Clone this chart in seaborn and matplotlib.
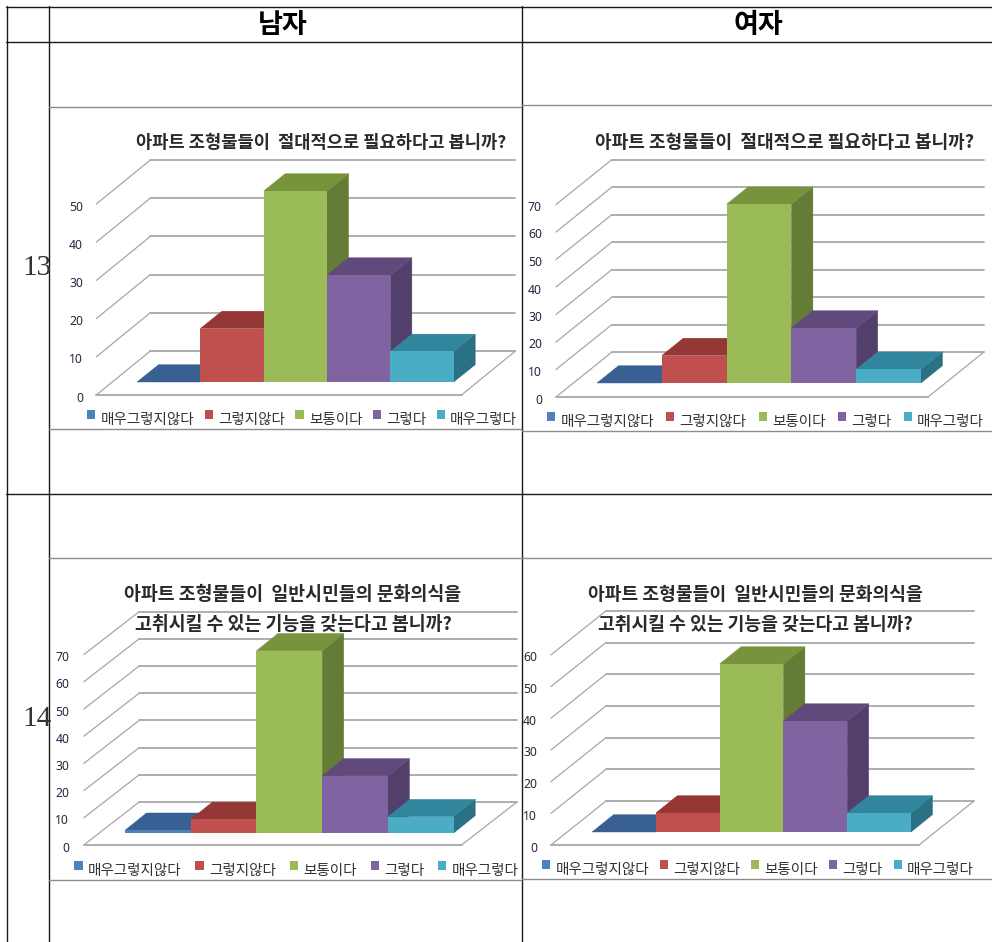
import matplotlib
matplotlib.use('Agg')
import matplotlib.pyplot as plt
from matplotlib.patches import Patch, Polygon
from matplotlib.transforms import ScaledTranslation
import seaborn as sns

# Survey data (percent of answers)
categories = ['매우그렇지않다', '그렇지않다', '보통이다', '그렇다', '매우그렇다']
q13_male = [0, 14, 50, 28, 8]
q13_female = [0, 10, 65, 20, 5]
q14_male = [1, 5, 67, 21, 6]
q14_female = [0, 6, 53, 35, 6]
q13_male_ticks = [0, 10, 20, 30, 40, 50]
q13_female_ticks = [0, 10, 20, 30, 40, 50, 60, 70]
q14_male_ticks = [0, 10, 20, 30, 40, 50, 60, 70]
q14_female_ticks = [0, 10, 20, 30, 40, 50, 60]

title_13 = ['아파트 조형물들이  절대적으로 필요하다고 봅니까?']
title_14 = ['아파트 조형물들이  일반시민들의 문화의식을', '고취시킬 수 있는 기능을 갖는다고 봅니까?']

front_colors = ['#4F81BD', '#C0504D', '#9BBB59', '#8064A2', '#4BACC6']
top_colors = ['#386093', '#953735', '#77933C', '#604A7B', '#31859C']
side_colors = ['#2F5480', '#7F2F2D', '#647C35', '#533F6B', '#2B7186']

W, H = 992, 942
DPI = 100
FONT = ['Noto Sans CJK KR', 'DejaVu Sans']

sns.set_theme(style='white')
plt.rcParams['font.family'] = FONT

fig = plt.figure(figsize=(W / DPI, H / DPI), dpi=DPI)

# Background axes in pixel coordinates for the table around the charts
bg = fig.add_axes([0, 0, 1, 1])
bg.set_xlim(0, W)
bg.set_ylim(H, 0)
bg.axis('off')

for x in [6.5, 48.5, 521.5]:
    bg.plot([x, x], [6, H], color='#1a1a1a', lw=1.0)
for y in [6.5, 41.5, 493.5]:
    bg.plot([6, W], [y, y], color='#1a1a1a', lw=1.0)

# edges of the pasted chart pictures
for x0, x1, y in [(49, 521, 106.5), (49, 521, 428.5), (522, W, 104.5), (522, W, 430.5),
                  (49, 521, 557.5), (49, 521, 879.5), (522, W, 557.5), (522, W, 878.5)]:
    bg.plot([x0, x1], [y, y], color='#8c8c8c', lw=1.0)

bg.text(283, 25, '남자', ha='center', va='center', fontsize=19.5, color='black', fontweight='bold')
bg.text(758, 25, '여자', ha='center', va='center', fontsize=19.5, color='black', fontweight='bold')
bg.text(22, 268, '13', ha='left', va='center', fontsize=21, color='#333333', family='Liberation Serif')
bg.text(22, 719, '14', ha='left', va='center', fontsize=21, color='#333333', family='Liberation Serif')


def draw_chart(values, ticks, title_lines, title_x, title_y, title_size, bar_left, bar_right, base, ppu,
               floor_left, floor_right, floor_y, back_dx, back_dy, label_right,
               legend_x, legend_y, legend_gap):
    ax = fig.add_axes([bar_left / W, 1 - base / H, (bar_right - bar_left) / W, ticks[-1] * ppu / H])
    ax.patch.set_alpha(0)
    sns.barplot(x=categories, y=values, hue=categories, palette=front_colors, dodge=False,
                width=1, saturation=1, legend=False, ax=ax)
    ax.set_xlim(-0.5, 4.5)
    ax.set_ylim(0, ticks[-1])
    ax.set(xlabel='', ylabel='')
    ax.set_xticks([])
    sns.despine(ax=ax, left=True, bottom=True)

    cat_w = (bar_right - bar_left) / 5

    def to_x(px):
        return (px - bar_left) / cat_w - 0.5

    def to_y(py):
        return (base - py) / ppu

    # y ticks sit on the front edge of the floor, below the bar bases
    ax.set_yticks(ticks)
    ax.tick_params(axis='y', length=0, pad=(bar_left - label_right) * 72 / DPI,
                   labelsize=8.8, labelcolor='#2a2440')
    shift = ScaledTranslation(0, -(floor_y + 1.5 - base) / DPI, fig.dpi_scale_trans)
    for label in ax.get_yticklabels():
        label.set_transform(label.get_transform() + shift)
        label.set_family('Noto Sans')

    # walls and floor of the 3D box
    for v in ticks:
        y_front = to_y(floor_y - v * ppu)
        y_back = to_y(floor_y + back_dy - v * ppu)
        ax.plot([to_x(floor_left), to_x(floor_left + back_dx)], [y_front, y_back],
                color='#a6a6a6', lw=0.9, clip_on=False, zorder=1)
        ax.plot([to_x(floor_left + back_dx), to_x(floor_right + back_dx)], [y_back, y_back],
                color='#a8a8a8', lw=1.3, clip_on=False, zorder=1)
    ax.plot([to_x(floor_left), to_x(floor_right)], [to_y(floor_y), to_y(floor_y)],
            color='#b0b0b0', lw=1.5, clip_on=False, zorder=1)
    ax.plot([to_x(floor_right), to_x(floor_right + back_dx)], [to_y(floor_y), to_y(floor_y + back_dy)],
            color='#a6a6a6', lw=0.9, clip_on=False, zorder=1)

    # bar depth
    dx = 21.5 / cat_w
    dy = 17.3 / ppu
    fronts = list(ax.patches)
    for i, bar in enumerate(fronts):
        x = bar.get_x()
        w = bar.get_width()
        h = bar.get_height()
        ax.add_patch(Polygon([(x + w, 0), (x + w, h), (x + w + dx, h + dy), (x + w + dx, dy)],
                             facecolor=side_colors[i], edgecolor=side_colors[i], lw=0.3,
                             clip_on=False, zorder=3 + i))
        ax.add_patch(Polygon([(x, h), (x + w, h), (x + w + dx, h + dy), (x + dx, h + dy)],
                             facecolor=top_colors[i], edgecolor=top_colors[i], lw=0.3,
                             clip_on=False, zorder=3 + i))
        bar.set_zorder(3.5 + i)
        bar.set_linewidth(0)
        bar.set_clip_on(False)

    for line, ty in zip(title_lines, title_y):
        ax.text(title_x, ty, line, transform=bg.transData, ha='center', va='center',
                fontsize=title_size, fontweight='bold', color='#2a2a2a', clip_on=False, zorder=20)

    handles = [Patch(facecolor=c, edgecolor='none', label=n) for c, n in zip(front_colors, categories)]
    leg = ax.legend(handles=handles, loc='center left', bbox_to_anchor=(legend_x, legend_y),
                    bbox_transform=bg.transData, ncol=5, frameon=False, fontsize=10.5,
                    handlelength=0.56, handleheight=0.56, handletextpad=0.36,
                    columnspacing=legend_gap, borderpad=0, borderaxespad=0)
    for t in leg.get_texts():
        t.set_color('#333333')
    # squares sit a little above the text in the reference
    for p in leg.get_patches():
        p.set_y(p.get_y() + 3)
    return ax


draw_chart(q13_male, q13_male_ticks, title_13, 321, [143], 12.7, 137, 453.7, 382, 3.82,
           96.3, 461.5, 395, 54, -44, 83, 87, 420, 0.72)
draw_chart(q13_female, q13_female_ticks, title_13, 785, [142], 13.0, 597, 921, 383, 2.75,
           556, 928, 397, 56, -45, 542, 547, 422, 0.84)
draw_chart(q14_male, q14_male_ticks, title_14, 293, [594, 625], 13.2, 125, 453.7, 833, 2.72,
           83.8, 461.5, 845, 55.4, -43, 69.3, 74.4, 871, 0.96)
draw_chart(q14_female, q14_female_ticks, title_14, 755, [594, 624], 13.1, 592, 911, 832, 3.17,
           551, 919, 845, 55, -44, 537, 542, 870, 0.75)

fig.savefig('out.png', dpi=DPI)
